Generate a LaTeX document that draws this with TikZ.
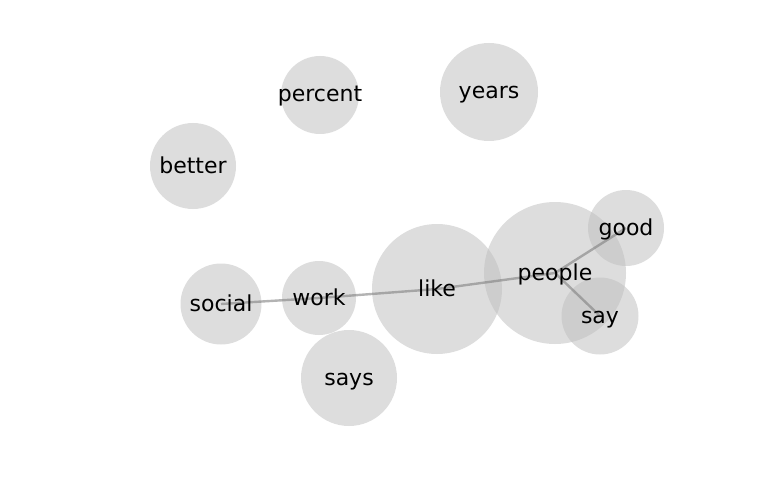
\documentclass[tikz,border=0pt]{standalone}
\usepackage{fontspec}
\setmainfont{DejaVu Sans}
\usetikzlibrary{positioning}

\begin{document}
\begin{tikzpicture}
    [
        x=1pt, y=-1pt,
        word/.style={circle, fill=black!25, fill opacity=0.53, text opacity=1, inner sep=0pt},
        link/.style={draw=black!50, draw opacity=0.6, line width=2.4pt},
        lbl/.style={font=\fontsize{22}{26}\selectfont, text=black, anchor=base, yshift=-7pt}
    ]
        % =========================================================================
        % CANVAS
        % =========================================================================
        \useasboundingbox (0,0) rectangle (768,500);

        % =========================================================================
        % NODES
        % =========================================================================
        \node [word, minimum size=78pt] (percent) at (320,95) {};
        \node [word, minimum size=98pt] (years) at (489,92) {};
        \node [word, minimum size=86pt] (better) at (193,166) {};
        \node [word, minimum size=76pt] (good) at (626,228) {};
        \node [word, minimum size=142pt] (people) at (555,273) {};
        \node [word, minimum size=130pt] (like) at (437,289) {};
        \node [word, minimum size=81pt] (social) at (221,304) {};
        \node [word, minimum size=74pt] (work) at (319,298) {};
        \node [word, minimum size=77pt] (say) at (600,316) {};
        \node [word, minimum size=96pt] (says) at (349,378) {};

        % =========================================================================
        % PATHS
        % =========================================================================
        \draw [link] (social.center) -- (work.center);
        \draw [link] (work.center) -- (like.center);
        \draw [link] (like.center) -- (people.center);
        \draw [link] (people.center) -- (good.center);
        \draw [link] (people.center) -- (say.center);

        % =========================================================================
        % LABELS
        % =========================================================================
        \node [lbl] at (percent) {percent};
        \node [lbl] at (years) {years};
        \node [lbl] at (better) {better};
        \node [lbl] at (good) {good};
        \node [lbl] at (people) {people};
        \node [lbl] at (like) {like};
        \node [lbl] at (social) {social};
        \node [lbl] at (work) {work};
        \node [lbl] at (say) {say};
        \node [lbl] at (says) {says};
    \end{tikzpicture}
\end{document}
